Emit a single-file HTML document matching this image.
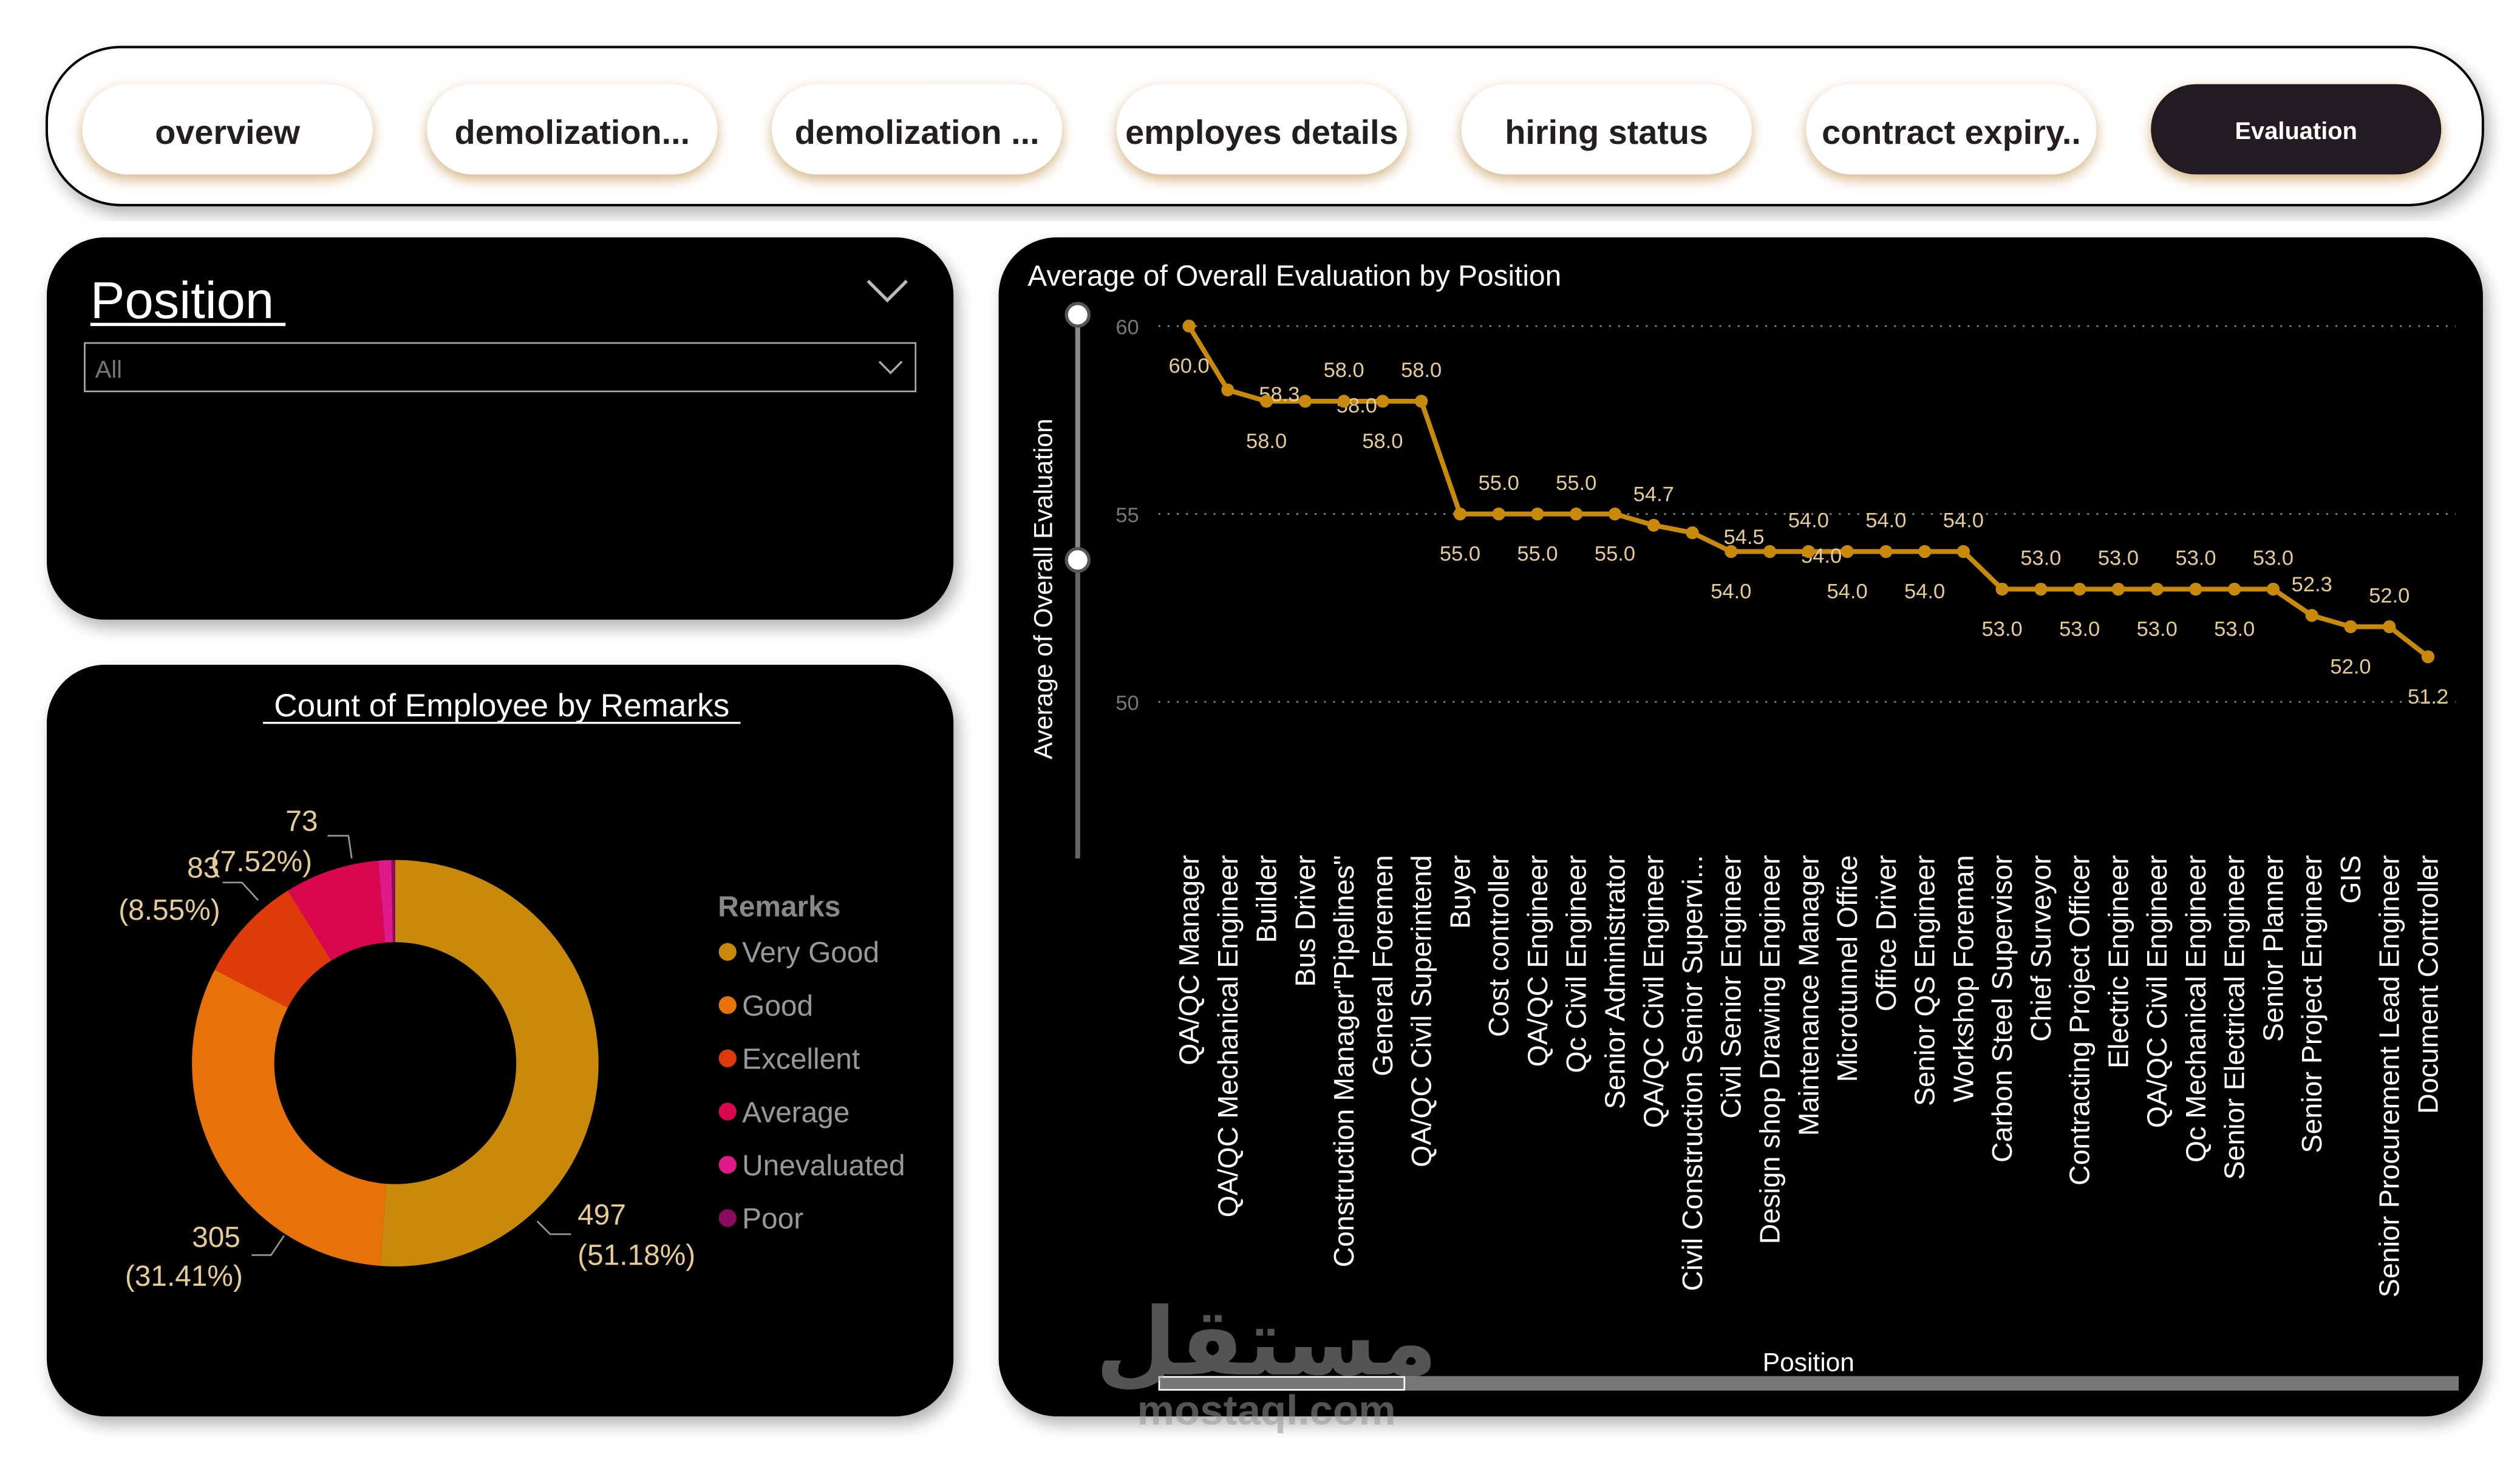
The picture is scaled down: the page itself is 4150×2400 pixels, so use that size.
<!DOCTYPE html>
<html><head><meta charset="utf-8"><style>
html,body{margin:0;padding:0;background:#fff;width:4150px;height:2400px;overflow:hidden}
svg{display:block}
text{font-family:"Liberation Sans","DejaVu Sans",sans-serif}
</style></head><body>
<svg id="root" width="4150" height="2400" viewBox="0 0 1562 903" xmlns="http://www.w3.org/2000/svg">
<defs>
<filter id="gold" x="-20%" y="-40%" width="140%" height="180%"><feDropShadow dx="0" dy="3" stdDeviation="4" flood-color="#c8a060" flood-opacity="0.8"/></filter>
<filter id="sh" x="-5%" y="-5%" width="112%" height="115%"><feDropShadow dx="3" dy="5" stdDeviation="5" flood-color="#000" flood-opacity="0.3"/></filter>
</defs>
<rect width="1562" height="903" fill="#fff"/>
<g>
<rect x="29" y="29" width="1510" height="98" rx="46" fill="#fff" stroke="#000" stroke-width="1.5" filter="url(#sh)"/>
<g id="navbtns"></g>
</g>
<g>
<rect x="29" y="147" width="562" height="237" rx="36" fill="#000" filter="url(#sh)"/>
<text x="56" y="197" font-size="32" fill="#fff">Position</text>
<line x1="56" y1="201" x2="177" y2="201" stroke="#fff" stroke-width="2"/>
<path d="M538 174 L550 186 L562 174" fill="none" stroke="#bbb" stroke-width="2"/>
<rect x="52.5" y="212.5" width="515" height="30" fill="#000" stroke="#aaa" stroke-width="1"/>
<text x="59" y="234" font-size="15" fill="#777">All</text>
<path d="M545 224 L552 231 L559 224" fill="none" stroke="#aaa" stroke-width="1.3"/>
</g>
<g>
<rect x="29" y="412" width="562" height="466" rx="36" fill="#000" filter="url(#sh)"/>
<text x="311" y="444" font-size="20" fill="#fff" text-anchor="middle">Count of Employee by Remarks</text>
<line x1="163" y1="448" x2="459" y2="448" stroke="#fff" stroke-width="1.3"/>
<g id="donut"></g>
<g id="legend"></g>
</g>
<g>
<rect x="619" y="147" width="920" height="731" rx="36" fill="#000" filter="url(#sh)"/>
<text x="637" y="177" font-size="18" fill="#fff">Average of Overall Evaluation by Position</text>
<text transform="translate(652,365) rotate(-90)" font-size="16" fill="#fff" text-anchor="middle">Average of Overall Evaluation</text>
<g>
<line x1="668" y1="195" x2="668" y2="532" stroke="#666" stroke-width="3"/>
<line x1="668" y1="195" x2="668" y2="347" stroke="#888" stroke-width="3"/>
<circle cx="668" cy="195" r="7" fill="#fff" stroke="#555" stroke-width="2"/>
<circle cx="668" cy="347" r="7" fill="#fff" stroke="#555" stroke-width="2"/>
</g>
<g id="linechart"></g>
<text x="1121" y="850" font-size="16" fill="#fff" text-anchor="middle">Position</text>
<g>
<rect x="718" y="853" width="806" height="9" fill="#777"/>
<rect x="718.5" y="853.5" width="152" height="8" fill="none" stroke="#fff" stroke-width="1"/>
</g>
<g opacity="0.55">
<text x="785" y="852" font-size="58" fill="#999" text-anchor="middle" font-family="DejaVu Sans,sans-serif" font-weight="bold">مستقل</text>
<text x="785" y="883" font-size="26" fill="#999" text-anchor="middle" font-weight="bold">mostaql.com</text>
</g>
</g>
</svg>
<script>
const NS='http://www.w3.org/2000/svg';
function mk(tag,attrs,parent){const e=document.createElementNS(NS,tag);for(const k in attrs)e.setAttribute(k,attrs[k]);parent.appendChild(e);return e;}

const navLabels=['overview','demolization...','demolization ...','employes details','hiring status','contract expiry..','Evaluation'];
const nav=document.getElementById('navbtns');
navLabels.forEach((t,i)=>{
  const cx=141+i*213.7;const active=i===navLabels.length-1;
  const g=mk('g',{},nav);
  
  
  mk('rect',{x:cx-90,y:52,width:180,height:56,rx:28,fill:active?'#231f20':'#fff',filter:'url(#gold)'},g);
  const tx=mk('text',{x:cx,y:active?86:89,'font-size':active?15:21,'font-weight':'bold',fill:active?'#fff':'#231f20','text-anchor':'middle'},g);
  tx.textContent=t;
});

const remarks=['Very Good','Good','Excellent','Average','Unevaluated','Poor'];
const counts=[497,305,83,73,10,3];
const colors=['#C98A0C','#E8720A','#DF3A0A','#D8074F','#E0198A','#8A0C5C'];
const dg=document.getElementById('donut');
const total=counts.reduce((a,b)=>a+b,0);
const cx=245,cy=659,R=126,r=75;
let a0=-Math.PI/2;
counts.forEach((v,i)=>{
  const a1=a0+v/total*2*Math.PI;const large=(a1-a0)>Math.PI?1:0;
  const p=`M${cx+R*Math.cos(a0)} ${cy+R*Math.sin(a0)} A${R} ${R} 0 ${large} 1 ${cx+R*Math.cos(a1)} ${cy+R*Math.sin(a1)} L${cx+r*Math.cos(a1)} ${cy+r*Math.sin(a1)} A${r} ${r} 0 ${large} 0 ${cx+r*Math.cos(a0)} ${cy+r*Math.sin(a0)}Z`;
  const s=mk('path',{d:p,fill:colors[i]},dg);
  
  
  a0=a1;
});
const lblPos=[[358,759,358,784,'start'],[134,773,114,797,'middle'],[126,544,105,570,'middle'],[187,515,162,540,'middle']];
const leaders=['M333 757 L341 765 L354 765','M156 778 L168 778 L176 766','M138 547 L150 547 L160 558','M203 518 L216 518 L218 532'];
for(let i=0;i<4;i++){
  const [x1,y1,x2,y2,anc]=lblPos[i];
  mk('path',{d:leaders[i],fill:'none',stroke:'#999','stroke-width':1},dg);
  const t1=mk('text',{x:x1,y:y1,'font-size':18,fill:'#E6CB94','text-anchor':anc},dg);
  
  
  t1.textContent=counts[i];
  const t2=mk('text',{x:x2,y:y2,'font-size':18,fill:'#E6CB94','text-anchor':anc},dg);
  t2.textContent='('+(counts[i]/total*100).toFixed(2)+'%)';
}
const lg=document.getElementById('legend');
const lt=mk('text',{x:445,y:568,'font-size':18,'font-weight':'bold',fill:'#888'},lg);lt.textContent='Remarks';
remarks.forEach((n,i)=>{
  const g=mk('g',{},lg);
  
  
  const y=590+i*33;
  mk('circle',{cx:451,cy:y,r:5.5,fill:colors[i]},g);
  const t=mk('text',{x:460,y:y+6.5,'font-size':18,fill:'#999'},g);t.textContent=n;
});

const positions=['QA/QC Manager','QA/QC Mechanical Engineer','Builder','Bus Driver','Construction Manager"Pipelines"','General Foremen','QA/QC Civil Superintend','Buyer','Cost controller','QA/QC Engineer','Qc Civil Engineer','Senior Administrator','QA/QC Civil Engineer','Civil Construction Senior Supervi...','Civil Senior Engineer','Design shop Drawing Engineer','Maintenance Manager','Microtunnel Office','Office Driver','Senior QS Engineer','Workshop Foreman','Carbon Steel Supervisor','Chief Surveyor','Contracting Project Officer','Electric Engineer','QA/QC Civil Engineer','Qc Mechanical Engineer','Senior Electrical Engineer','Senior Planner','Senior Project Engineer','GIS','Senior Procurement Lead Engineer','Document Controller'];
const avgEval=[60,58.3,58,58,58,58,58,55,55,55,55,55,54.7,54.5,54,54,54,54,54,54,54,53,53,53,53,53,53,53,53,52.3,52,52,51.2];
const yTicks=[60,55,50];
// label placement: b=below, a=above, s=side
const labelSide='bsbsababababasbsababababababaabab';

const lc=document.getElementById('linechart');
const xS=i=>737+i*(1505-737)/(positions.length-1);
const yS=v=>202+(60-v)*23.3;
yTicks.forEach(t=>{
  const l=mk('line',{x1:718,x2:1522,y1:yS(t),y2:yS(t),stroke:'#888','stroke-width':1,'stroke-dasharray':'1.2 4.5'},lc);
  
  
  const tx=mk('text',{x:706,y:yS(t)+5,'font-size':13,fill:'#777','text-anchor':'end'},lc);
  
  
  tx.textContent=t;
});
const line=mk('polyline',{points:avgEval.map((v,i)=>xS(i)+','+yS(v)).join(' '),fill:'none',stroke:'#C98A0C','stroke-width':3,'stroke-linejoin':'round'},lc);


avgEval.forEach((v,i)=>{
  const px=xS(i),py=yS(v);
  const c=mk('circle',{cx:px,cy:py,r:4,fill:'#C98A0C'},lc);
  
  
  let lx=px,ly;const sd=labelSide[i];
  if(sd==='s'){lx=px+32;ly=py+7;}
  else if(sd==='b'){ly=py+29;}else{ly=py-15;}
  const t=mk('text',{x:lx,y:ly,'font-size':13,fill:'#E6CB94','text-anchor':'middle'},lc);
  
  
  t.textContent=v.toFixed(1);
  const xl=mk('text',{transform:`translate(${px+6},530) rotate(-90)`,'font-size':17.5,fill:'#fff','text-anchor':'end','font-family':'DejaVu Sans,sans-serif'},lc);
  
  
  xl.textContent=positions[i];
});
</script>
</body></html>
